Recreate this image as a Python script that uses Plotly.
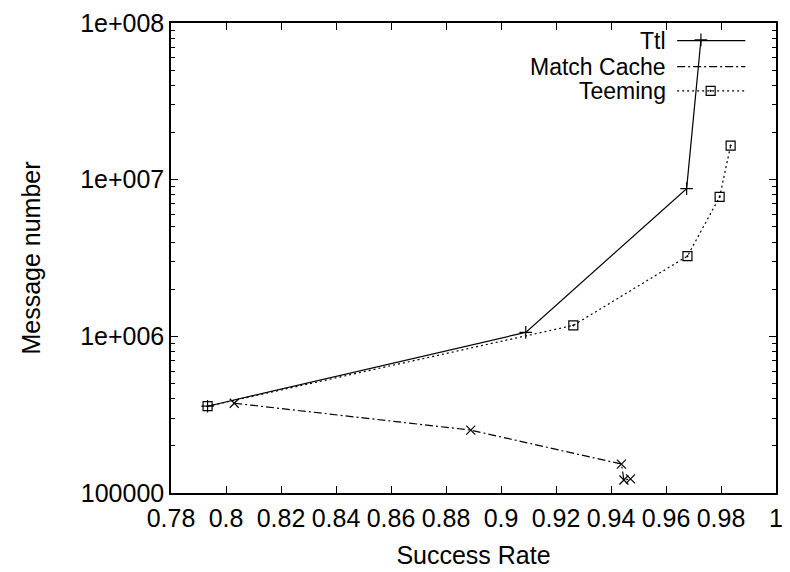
import plotly.graph_objects as go

# ---- data ----
ttl_x = [0.7933, 0.909, 0.9675, 0.9727]
ttl_y = [358000, 1060000, 8770000, 78000000]

mc_x = [0.803, 0.889, 0.9438, 0.9447, 0.9471]
mc_y = [374000, 252000, 153000, 121000, 123000]

teem_x = [0.7933, 0.9263, 0.9678, 0.9795, 0.9835]
teem_y = [358000, 1175000, 3250000, 7760000, 16500000]

x_ticks = [0.78, 0.80, 0.82, 0.84, 0.86, 0.88, 0.90, 0.92, 0.94, 0.96, 0.98, 1.0]
x_tick_text = ["0.78", "0.8", "0.82", "0.84", "0.86", "0.88", "0.9", "0.92", "0.94", "0.96", "0.98", "1"]
y_ticks = [1e5, 1e6, 1e7, 1e8]
y_tick_text = ["100000", "1e+006", "1e+007", "1e+008"]
series_names = ["Ttl", "Match Cache", "Teeming"]

FONT = "Liberation Sans, Arial, Helvetica, sans-serif"
BLACK = "#000000"

fig = go.Figure()

fig.add_trace(go.Scatter(
    x=ttl_x, y=ttl_y, mode="lines+markers", name=series_names[0],
    line=dict(color=BLACK, width=1.2, dash="solid"),
    marker=dict(symbol="cross-thin-open", size=9, line=dict(color=BLACK, width=1.2)),
    showlegend=False))
fig.add_trace(go.Scatter(
    x=mc_x, y=mc_y, mode="lines+markers", name=series_names[1],
    line=dict(color=BLACK, width=1.2, dash="8px,3px,2px,3px"),
    marker=dict(symbol="x-thin-open", size=9, line=dict(color=BLACK, width=1.2)),
    showlegend=False))
fig.add_trace(go.Scatter(
    x=teem_x, y=teem_y, mode="lines+markers", name=series_names[2],
    line=dict(color=BLACK, width=1.2, dash="2px,3px"),
    marker=dict(symbol="square-dot", size=9, color="rgba(0,0,0,0)",
                line=dict(color=BLACK, width=1.2)),
    showlegend=False))

# ---- gnuplot-style key (text left, sample right) on an overlay axis ----
key_y = [0.9624, 0.9072, 0.8556]
key_x0, key_x1, key_xm = 0.8366, 0.9493, 0.892
key_styles = [
    ("solid", "cross-thin-open"),
    ("8px,3px,2px,3px", "x-thin-open"),
    ("2px,3px", "square-dot"),
]
for name, ky, (dash, sym) in zip(series_names, key_y, key_styles):
    fig.add_trace(go.Scatter(
        x=[key_x0, key_x1], y=[ky, ky], mode="lines", xaxis="x2", yaxis="y2",
        line=dict(color=BLACK, width=1.2, dash=dash), showlegend=False, hoverinfo="skip"))
    fig.add_trace(go.Scatter(
        x=[key_xm], y=[ky], mode="markers", xaxis="x2", yaxis="y2",
        marker=dict(symbol=sym, size=9, color="rgba(0,0,0,0)", line=dict(color=BLACK, width=1.2)),
        showlegend=False, hoverinfo="skip"))
    fig.add_annotation(x=0.8203, y=ky, xref="paper", yref="paper", text=name,
                       showarrow=False, xanchor="right", yanchor="middle",
                       borderpad=0,
                       font=dict(family=FONT, size=23, color=BLACK))

fig.update_layout(
    width=790, height=572,
    margin=dict(l=171, r=7, t=23, b=78),
    paper_bgcolor="white", plot_bgcolor="white",
    font=dict(family=FONT, size=25, color=BLACK),
    xaxis=dict(
        range=[0.78, 1.0], tickvals=x_ticks, ticktext=x_tick_text,
        ticks="inside", ticklen=7, tickwidth=1, tickcolor=BLACK,
        showline=True, linecolor=BLACK, linewidth=1.5, mirror="allticks",
        showgrid=False, zeroline=False, ticklabelstandoff=2,
        title=dict(text="Success Rate", font=dict(size=25), standoff=16),
        tickfont=dict(size=25),
    ),
    yaxis=dict(
        type="log", range=[5, 8], tickvals=y_ticks, ticktext=y_tick_text,
        ticks="inside", ticklen=7, tickwidth=1, tickcolor=BLACK,
        showline=True, linecolor=BLACK, linewidth=1.5, mirror="allticks",
        showgrid=False, zeroline=False,
        minor=dict(ticks="inside", ticklen=4, tickwidth=1, tickcolor=BLACK,
                   dtick="D1", showgrid=False),
        title=dict(text="Message number", font=dict(size=25), standoff=32),
        tickfont=dict(size=25),
    ),
    xaxis2=dict(overlaying="x", range=[0, 1], visible=False, domain=[0, 1]),
    yaxis2=dict(overlaying="y", range=[0, 1], visible=False, domain=[0, 1]),
)

fig.write_html("out.html")
